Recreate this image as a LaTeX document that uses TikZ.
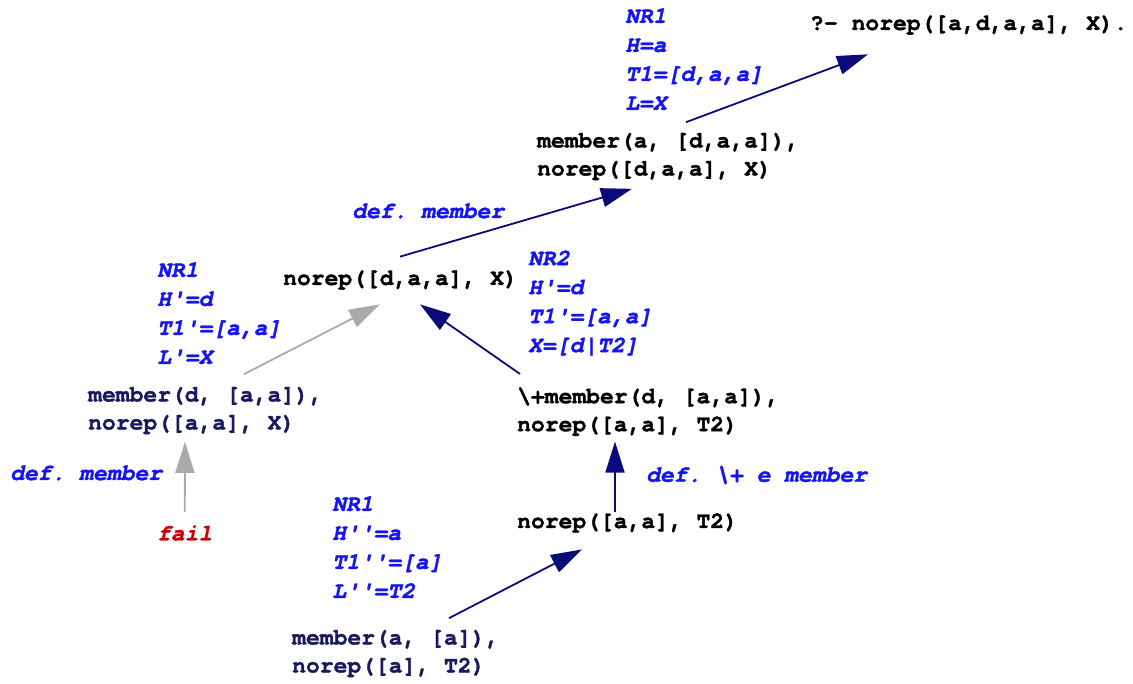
\documentclass[tikz,border=0pt]{standalone}
\usepackage{fontspec}
\setmonofont{TeX Gyre Cursor}[BoldFeatures={FakeBold=1.5}, BoldItalicFeatures={FakeBold=1.5}]
\usetikzlibrary{arrows.meta}
\frenchspacing

\definecolor{arrnavy}{RGB}{10,10,120}
\definecolor{labblue}{RGB}{20,20,245}
\definecolor{goalnavy}{RGB}{25,25,95}
\definecolor{failred}{RGB}{205,0,0}
\definecolor{arrgray}{RGB}{170,170,170}

\tikzset{
  goal/.style={anchor=west, inner sep=0pt, align=left,
    font=\fontsize{23}{28}\selectfont\ttfamily\bfseries},
  unif/.style={anchor=west, inner sep=0pt, align=left, text=labblue,
    font=\fontsize{23}{29}\selectfont\ttfamily\bfseries\itshape},
  solved/.style={draw=arrnavy, line width=1.8pt,
    -{Triangle[length=31pt,width=19pt,fill=arrnavy]}},
  failed/.style={draw=arrgray, line width=1.8pt,
    -{Triangle[length=31pt,width=19pt,fill=arrgray]}},
}

\begin{document}
\begin{tikzpicture}[x=1pt,y=-1pt]
        \useasboundingbox (0,0) rectangle (1133,684);

        \node[goal] (Q)  at (810,25)    {?- norep([a,d,a,a], X).};
        \node[goal] (M1) at (537,156.5) {member(a, [d,a,a]),\\norep([d,a,a], X)};
        \node[goal] (N1) at (283,280)   {norep([d,a,a], X)};
        \node[goal, text=goalnavy] (MD) at (88,410.5) {member(d, [a,a]),\\norep([a,a], X)};
        \node[goal] (NP) at (517,411.5) {\textbackslash+member(d, [a,a]),\\norep([a,a], T2)};
        \node[goal] (N3) at (517,523)   {norep([a,a], T2)};
        \node[goal, text=goalnavy] (MA) at (292,653.5) {member(a, [a]),\\norep([a], T2)};
        \node[unif, text=failred] (F) at (157,533) {fail};

        \node[unif] (U1) at (625,59)  {NR1\\H=a\\T1=[d,a,a]\\L=X};
        \node[unif] (U2) at (157,313) {NR1\\H'=d\\T1'=[a,a]\\L'=X};
        \node[unif] (U3) at (528,303) {NR2\\H'=d\\T1'=[a,a]\\X=[d|T2]};
        \node[unif] (U4) at (332,547) {NR1\\H''=a\\T1''=[a]\\L''=T2};
        \node[unif] (D1) at (352,211) {def. member};
        \node[unif] (D2) at (10,473)  {def. member};
        \node[unif] (D3) at (646,475) {def. \textbackslash+ e member};

        \draw[solved] ([xshift=149pt,yshift=10.5pt]M1.north west) -- ([xshift=58pt,yshift=-19.5pt]Q.south west);
        \draw[solved] ([xshift=117pt,yshift=13.5pt]N1.north west) -- ([xshift=95pt,yshift=-8.5pt]M1.south west);
        \draw[failed] ([xshift=156pt,yshift=12.5pt]MD.north west) -- ([xshift=97pt,yshift=-14.5pt]N1.south west);
        \draw[solved] ([xshift=3pt,yshift=13pt]NP.north west) -- ([xshift=137pt,yshift=-14.5pt]N1.south west);
        \draw[failed] ([yshift=13pt]F.north) -- ([xshift=97pt,yshift=-7.5pt]MD.south west);
        \draw[solved] ([xshift=98pt,yshift=1.5pt]N3.north west) -- ([xshift=98pt,yshift=-5.5pt]NP.south west);
        \draw[solved] ([xshift=157pt,yshift=11.5pt]MA.north west) -- ([xshift=65pt,yshift=-16.5pt]N3.south west);
    \end{tikzpicture}
\end{document}
